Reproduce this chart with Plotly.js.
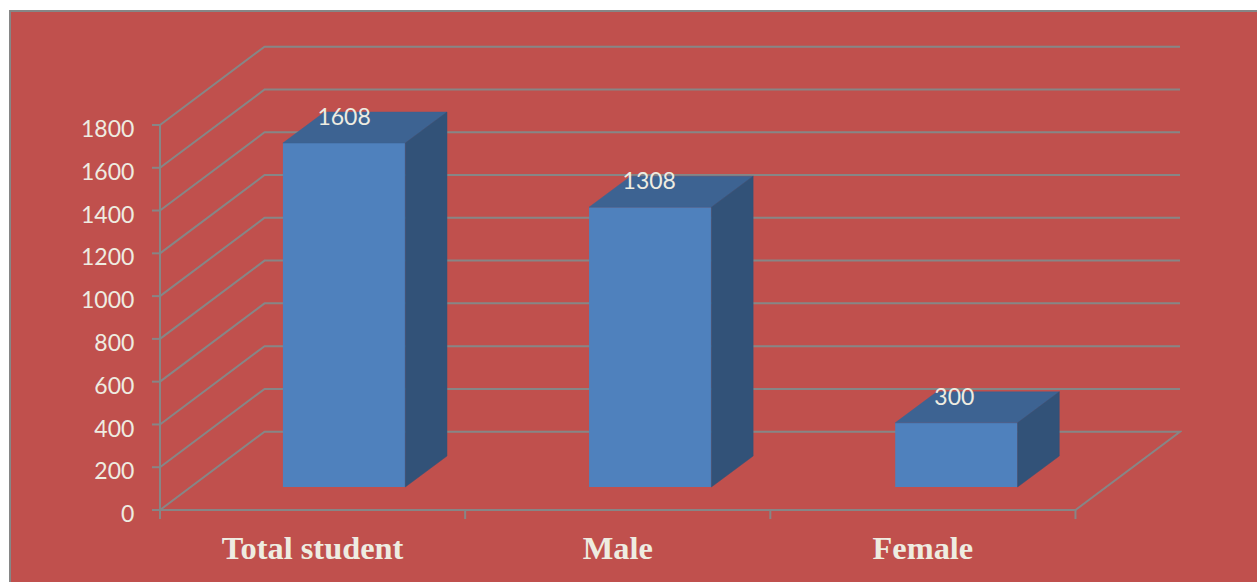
<!DOCTYPE html>
<html>
<head>
<meta charset="utf-8">
<script src="https://cdn.plot.ly/plotly-3.0.1.min.js"></script>
<style>
html,body{margin:0;padding:0;background:#fff;overflow:hidden;width:1257px;height:582px}
#frame{position:absolute;left:9px;top:10px;border-left:2px solid #868686;border-top:2px solid #868686;width:1246px;height:570px}
</style>
</head>
<body>
<div id="frame"><div id="chart"></div></div>
<script>
// Data
const categories = ['Total student', 'Male', 'Female'];
const values = [1608, 1308, 300];
const yTicks = [0, 200, 400, 600, 800, 1000, 1200, 1400, 1600, 1800];

// Scale of the pseudo-3D projection
const pxPerCat = 305, pxPerUnit = 385 / 1800;
const ux = px => px / pxPerCat, uy = px => px / pxPerUnit;
const wallDx = ux(104.5), wallDy = uy(78.3);
const barDx = ux(41.7), barDy = uy(31);
const barOffX = ux(31.5), barBase = uy(23), barW = ux(122.3), barStep = ux(306);

const grey = '#868686', txt = '#EEECE1';
const line = {color: grey, width: 2};
const seg = pts => ({type: 'path', xref: 'x', yref: 'y', layer: 'below', line,
  path: pts.map((p, i) => (i ? 'L' : 'M') + p[0] + ',' + p[1]).join(' ')});

const shapes = [];
// walls' gridlines
yTicks.forEach(v => {
  if (v > 0) shapes.push(seg([[0, v], [wallDx, v + wallDy], [3 + wallDx, v + wallDy]]));
  else shapes.push(seg([[0, v], [wallDx, v + wallDy], [3 + wallDx, v + wallDy], [3, v], [0, v]]));
  shapes.push(seg([[-ux(8), v], [0, v]]));
});
// axis lines and category ticks
shapes.push(seg([[0, 0], [0, yTicks[yTicks.length - 1]]]));
[0, 1, 2, 3].forEach(i => shapes.push(seg([[i, 0], [i, -uy(9)]])));

const centers = categories.map((c, i) => 0.5 + barOffX + i * barStep);
const labelX = categories.map((c, i) => 0.5 + barOffX + i);
const traces = [{
  type: 'bar', x: centers, y: values, base: barBase, width: barW,
  marker: {color: '#4F81BD', line: {width: 0}}, hoverinfo: 'skip'
}];
values.forEach((v, i) => {
  const l = centers[i] - barW / 2, r = centers[i] + barW / 2, b = barBase, t = barBase + v;
  traces.push({type: 'scatter', mode: 'lines', fill: 'toself', fillcolor: '#3D6392',
    line: {color: '#3D6392', width: 0.5}, hoverinfo: 'skip',
    x: [l, r, r + barDx, l + barDx, l], y: [t, t, t + barDy, t + barDy, t]});
  traces.push({type: 'scatter', mode: 'lines', fill: 'toself', fillcolor: '#325278',
    line: {color: '#325278', width: 0.5}, hoverinfo: 'skip',
    x: [r, r + barDx, r + barDx, r, r], y: [b, b + barDy, t + barDy, t, b]});
});
traces.push({type: 'scatter', mode: 'text', x: labelX,
  y: values.map(v => barBase + v + uy(24)), text: values.map(String),
  textposition: 'middle center', hoverinfo: 'skip', cliponaxis: false,
  textfont: {family: 'Lato, "Open Sans", sans-serif', size: 23, color: txt}});

const layout = {
  width: 1246, height: 570,
  margin: {l: 139, r: 75, t: 32, b: 58, pad: 0},
  paper_bgcolor: '#C0504D', plot_bgcolor: 'rgba(0,0,0,0)',
  showlegend: false, barmode: 'overlay', shapes,
  xaxis: {range: [-ux(10), 3 + wallDx + ux(2)], showgrid: false, zeroline: false, showline: false,
    tickmode: 'array', tickvals: categories.map((c, i) => i + 0.5), ticktext: categories,
    ticks: '', ticklabelstandoff: 2,
    tickfont: {family: '"Liberation Serif", serif', size: 32.4, color: txt, weight: 'bold'}},
  yaxis: {range: [-uy(14), uy(466)], showgrid: false, zeroline: false, showline: false,
    tickmode: 'array', tickvals: yTicks, ticktext: yTicks.map(String),
    ticks: 'outside', ticklen: 10, tickcolor: 'rgba(0,0,0,0)', ticklabelshift: 4,
    tickfont: {family: 'Lato, "Open Sans", sans-serif', size: 23, color: txt}}
};
Plotly.newPlot('chart', traces, layout, {displayModeBar: false, staticPlot: true});
</script>
</body>
</html>
